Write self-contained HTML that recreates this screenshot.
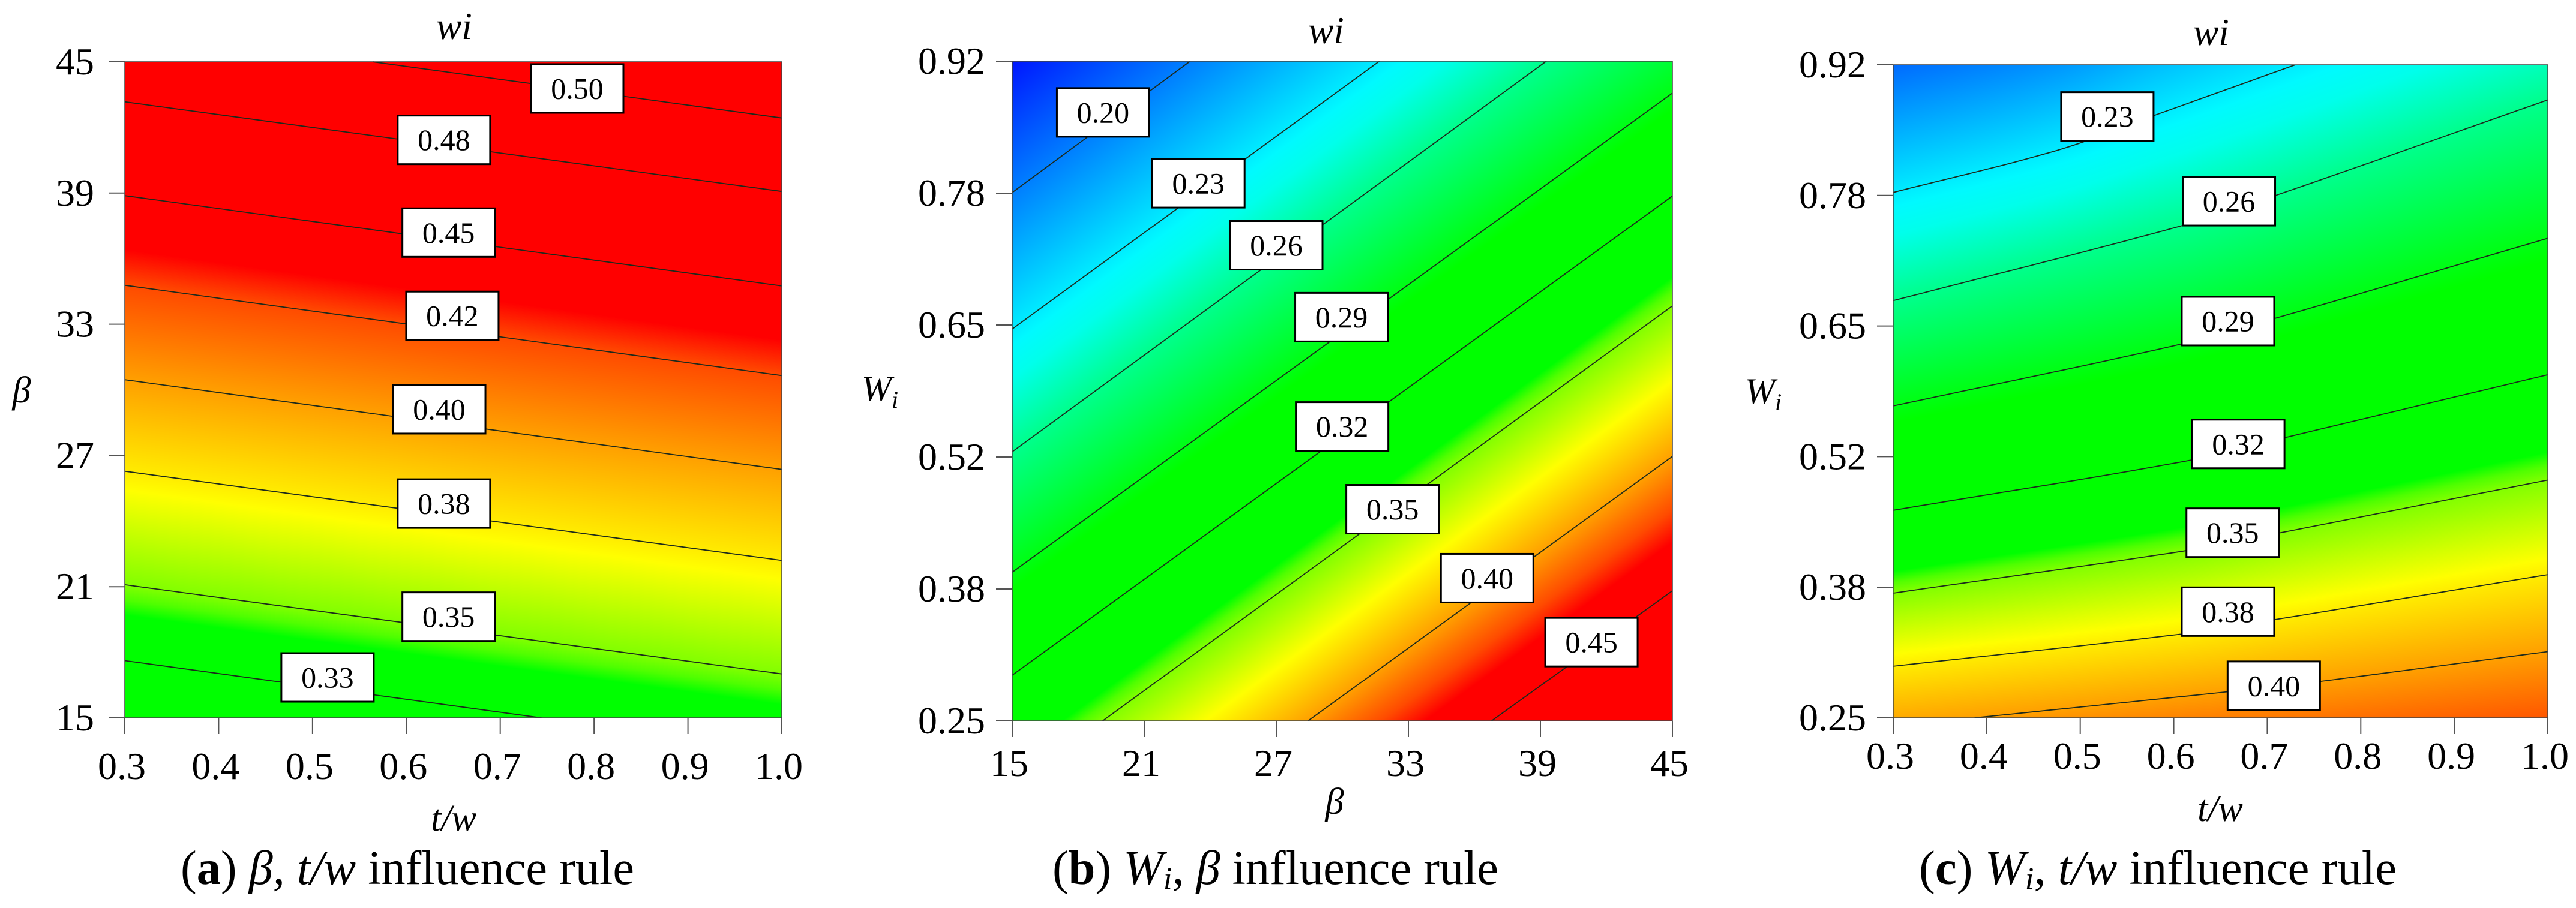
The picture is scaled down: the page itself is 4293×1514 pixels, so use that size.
<!DOCTYPE html>
<html lang="en">
<head>
<meta charset="utf-8">
<title>wi influence rule contour plots</title>
<style>
html,body{margin:0;padding:0;background:#fff;}
#stage{position:relative;width:4293px;height:1514px;overflow:hidden;background:#fff;}
#stage canvas{position:absolute;display:block;}
#overlay{position:absolute;left:0;top:0;}
text{font-family:"Liberation Serif","DejaVu Serif",serif;fill:#000;}
.it{font-style:italic;}
</style>
</head>
<body>
<div id="stage">
<svg id="overlay" width="4293" height="1514" viewBox="0 0 4293 1514" xmlns="http://www.w3.org/2000/svg">
  <text x="757" y="65" font-size="63" text-anchor="middle" class="it">wi</text>
  <text x="756" y="1385" font-size="62" text-anchor="middle" class="it">t/w</text>
  <text x="36" y="671" font-size="62" text-anchor="middle" class="it">β</text>
  <text x="301" y="1474" font-size="80" textLength="756" lengthAdjust="spacingAndGlyphs">(<tspan font-weight="bold">a</tspan>) <tspan class="it">β, t/w</tspan> influence rule</text>

  <text x="2210" y="72" font-size="63" text-anchor="middle" class="it">wi</text>
  <text x="2224" y="1357" font-size="62" text-anchor="middle" class="it">β</text>
  <text x="1436" y="668" font-size="60" class="it">W<tspan font-size="40" dy="12">i</tspan></text>
  <text x="1754" y="1474" font-size="80" textLength="743" lengthAdjust="spacingAndGlyphs">(<tspan font-weight="bold">b</tspan>) <tspan class="it">W</tspan><tspan class="it" font-size="52" dy="8">i</tspan><tspan dy="-8">, </tspan><tspan class="it">β</tspan> influence rule</text>

  <text x="3685" y="75" font-size="63" text-anchor="middle" class="it">wi</text>
  <text x="3700" y="1369" font-size="62" text-anchor="middle" class="it">t/w</text>
  <text x="2908" y="672" font-size="60" class="it">W<tspan font-size="40" dy="12">i</tspan></text>
  <text x="3198" y="1474" font-size="80" textLength="796" lengthAdjust="spacingAndGlyphs">(<tspan font-weight="bold">c</tspan>) <tspan class="it">W</tspan><tspan class="it" font-size="52" dy="8">i</tspan><tspan dy="-8">, </tspan><tspan class="it">t/w</tspan> influence rule</text>
</svg>
</div>
<script>
// ---- Panel (a): beta vs t/w ----
const aXTicks = [0.3,0.4,0.5,0.6,0.7,0.8,0.9,1.0];
const aXTickLabels = ['0.3','0.4','0.5','0.6','0.7','0.8','0.9','1.0'];
const aYTicks = [15,21,27,33,39,45];
const aYTickLabels = ['15','21','27','33','39','45'];
const aLevels = [0.33,0.35,0.38,0.40,0.42,0.45,0.48,0.50];
const aLevelText = ['0.33','0.35','0.38','0.40','0.42','0.45','0.48','0.50'];
const aContourX = [
  [0.300,0.744],[0.300,1.000],[0.300,1.000],[0.300,1.000],
  [0.300,1.000],[0.300,1.000],[0.300,1.000],[0.564,1.000]
];
const aContourY = [
  [17.62,15.00],[21.09,17.01],[26.28,22.20],[30.46,26.36],
  [34.78,30.65],[38.88,34.75],[43.17,39.07],[45.00,42.43]
];
const aLabelX = [0.516,0.645,0.640,0.635,0.649,0.645,0.640,0.782];
const aLabelY = [16.85,19.63,24.80,29.11,33.38,37.19,41.43,43.78];

// ---- Panel (b): Wi vs beta ----
const bXTicks = [15,21,27,33,39,45];
const bXTickLabels = ['15','21','27','33','39','45'];
const bYTicks = [0.25,0.384,0.518,0.652,0.786,0.92];
const bYTickLabels = ['0.25','0.38','0.52','0.65','0.78','0.92'];
const bLevels = [0.20,0.23,0.26,0.29,0.32,0.35,0.40,0.45];
const bLevelText = ['0.20','0.23','0.26','0.29','0.32','0.35','0.40','0.45'];
const bContourX = [
  [15,23.09],[15,31.68],[15,39.27],[15,45],
  [15,45],[19.11,45],[28.44,45],[36.78,45]
];
const bContourY = [
  [0.7866,0.92],[0.6479,0.92],[0.5233,0.92],[0.4010,0.8876],
  [0.2964,0.7830],[0.25,0.6714],[0.25,0.5186],[0.25,0.3822]
];
const bLabelX = [19.13,23.46,27.00,29.96,29.99,32.28,36.58,41.32];
const bLabelY = [0.868,0.796,0.733,0.660,0.549,0.465,0.395,0.330];

// ---- Panel (c): Wi vs t/w ----
const cXTicks = [0.3,0.4,0.5,0.6,0.7,0.8,0.9,1.0];
const cXTickLabels = ['0.3','0.4','0.5','0.6','0.7','0.8','0.9','1.0'];
const cYTicks = [0.25,0.384,0.518,0.652,0.786,0.92];
const cYTickLabels = ['0.25','0.38','0.52','0.65','0.78','0.92'];
const cLevels = [0.23,0.26,0.29,0.32,0.35,0.38,0.40];
const cLevelText = ['0.23','0.26','0.29','0.32','0.35','0.38','0.40'];
const cContourX = [
  [0.300,0.478,0.579,0.730],
  [0.300,0.609,0.709,1.000],
  [0.300,0.606,0.709,1.000],
  [0.300,0.616,0.721,1.000],
  [0.300,0.616,0.709,1.000],
  [0.300,0.608,0.709,1.000],
  [0.387,0.660,0.753,1.000]
];
const cContourY = [
  [0.789,0.833,0.868,0.920],
  [0.678,0.755,0.786,0.884],
  [0.570,0.633,0.660,0.742],
  [0.463,0.514,0.538,0.602],
  [0.378,0.422,0.439,0.494],
  [0.303,0.336,0.351,0.397],
  [0.250,0.277,0.287,0.318]
];
const cLabelX = [0.529,0.659,0.658,0.669,0.663,0.658,0.707];
const cLabelY = [0.867,0.780,0.657,0.531,0.440,0.359,0.283];

// Shared colour scale: response value -> rgb
const scaleValues = [0.165,0.234,0.242,0.26,0.29,0.295,0.342,0.346,0.35,0.375,0.40,0.42,0.432];
const scaleReds   = [0,0,0,0,0,0,0,80,130,255,255,255,255];
const scaleGreens = [0,250,255,255,255,255,255,255,255,255,160,75,0];
const scaleBlues  = [255,255,235,140,20,0,0,0,0,0,0,0,0];

const SVGNS = 'http://www.w3.org/2000/svg';
const overlay = document.getElementById('overlay');
const stage = document.getElementById('stage');

function colorAt(v){
  const n = scaleValues.length;
  if (v <= scaleValues[0]) return [scaleReds[0],scaleGreens[0],scaleBlues[0]];
  if (v >= scaleValues[n-1]) return [scaleReds[n-1],scaleGreens[n-1],scaleBlues[n-1]];
  let i = 0;
  while (i < n-2 && v > scaleValues[i+1]) i++;
  const t = (v-scaleValues[i])/(scaleValues[i+1]-scaleValues[i]);
  return [
    scaleReds[i]+t*(scaleReds[i+1]-scaleReds[i]),
    scaleGreens[i]+t*(scaleGreens[i+1]-scaleGreens[i]),
    scaleBlues[i]+t*(scaleBlues[i+1]-scaleBlues[i])
  ];
}

// Smooth curve through a contour's read points; straight extension beyond its ends
function tangent(xs, ys, i){
  const n = xs.length;
  if (i === 0) return (ys[1]-ys[0])/(xs[1]-xs[0]);
  if (i === n-1) return (ys[n-1]-ys[n-2])/(xs[n-1]-xs[n-2]);
  return (ys[i+1]-ys[i-1])/(xs[i+1]-xs[i-1]);
}
function evalContour(xs, ys, x){
  const n = xs.length;
  if (x <= xs[0]) return ys[0]+(x-xs[0])*tangent(xs,ys,0);
  if (x >= xs[n-1]) return ys[n-1]+(x-xs[n-1])*tangent(xs,ys,n-1);
  let i = 0;
  while (i < n-2 && x > xs[i+1]) i++;
  const d = xs[i+1]-xs[i], t = (x-xs[i])/d, t2 = t*t, t3 = t2*t;
  return (2*t3-3*t2+1)*ys[i]+(t3-2*t2+t)*d*tangent(xs,ys,i)+(-2*t3+3*t2)*ys[i+1]+(t3-t2)*d*tangent(xs,ys,i+1);
}

function drawPanel(p){
  const sx = v => p.left+(v-p.xMin)/(p.xMax-p.xMin)*(p.right-p.left);
  const sy = v => p.bottom-(v-p.yMin)/(p.yMax-p.yMin)*(p.bottom-p.top);
  const w = p.right-p.left, h = p.bottom-p.top;

  // Continuous field, interpolated between the contour lines
  const cv = document.createElement('canvas');
  
  
  cv.width = w; cv.height = h;
  cv.style.left = p.left+'px'; cv.style.top = p.top+'px';
  stage.insertBefore(cv, overlay);
  const ctx = cv.getContext('2d');
  const img = ctx.createImageData(w,h);
  const L = p.levels, nL = L.length;
  const cy = new Float64Array(nL);
  for (let px=0; px<w; px++){
    const xv = p.xMin+(px+0.5)/w*(p.xMax-p.xMin);
    for (let k=0;k<nL;k++) cy[k] = evalContour(p.cx[k],p.cy[k],xv);
    for (let py=0; py<h; py++){
      const yv = p.yMax-(py+0.5)/h*(p.yMax-p.yMin);
      let k = 0;
      const rising = cy[nL-1] > cy[0];
      while (k < nL-2 && (rising ? yv > cy[k+1] : yv < cy[k+1])) k++;
      const val = L[k]+(yv-cy[k])*(L[k+1]-L[k])/(cy[k+1]-cy[k]);
      const c = colorAt(val);
      const o = (py*w+px)*4;
      img.data[o]=c[0]; img.data[o+1]=c[1]; img.data[o+2]=c[2]; img.data[o+3]=255;
    }
  }
  ctx.putImageData(img,0,0);

  const root = document.createElementNS(SVGNS,'g');
  
  
  overlay.appendChild(root);

  // Contour lines
  p.levels.forEach((lv,k)=>{
    const xs = p.cx[k], ys = p.cy[k];
    const steps = xs.length > 2 ? 48 : 1;
    const pts = [];
    for (let s=0; s<=steps; s++){
      const xv = xs[0]+(xs[xs.length-1]-xs[0])*s/steps;
      pts.push(sx(xv).toFixed(1)+','+sy(evalContour(xs,ys,xv)).toFixed(1));
    }
    const line = document.createElementNS(SVGNS,'polyline');
    
    
    line.setAttribute('points', pts.join(' '));
    line.setAttribute('fill','none');
    line.setAttribute('stroke','#1c2a1c');
    line.setAttribute('stroke-width','1.8');
    root.appendChild(line);
  });

  // Frame
  const frame = document.createElementNS(SVGNS,'rect');
  
  
  frame.setAttribute('x',p.left); frame.setAttribute('y',p.top);
  frame.setAttribute('width',w); frame.setAttribute('height',h);
  frame.setAttribute('fill','none');
  frame.setAttribute('stroke','#444');
  frame.setAttribute('stroke-width','1.5');
  root.appendChild(frame);

  // X ticks
  p.xTicks.forEach((t,i)=>{
    const tick = document.createElementNS(SVGNS,'line');
    
    
    tick.setAttribute('x1',sx(t)); tick.setAttribute('x2',sx(t));
    tick.setAttribute('y1',p.bottom); tick.setAttribute('y2',p.bottom+27);
    tick.setAttribute('stroke','#555'); tick.setAttribute('stroke-width','2');
    root.appendChild(tick);
    const lab = document.createElementNS(SVGNS,'text');
    
    
    lab.setAttribute('x',sx(t)-5); lab.setAttribute('y',p.xLabelBase);
    lab.setAttribute('font-size','64'); lab.setAttribute('text-anchor','middle');
    lab.textContent = p.xLabels[i];
    root.appendChild(lab);
  });

  // Y ticks
  p.yTicks.forEach((t,i)=>{
    const tick = document.createElementNS(SVGNS,'line');
    
    
    tick.setAttribute('x1',p.left-27); tick.setAttribute('x2',p.left);
    tick.setAttribute('y1',sy(t)); tick.setAttribute('y2',sy(t));
    tick.setAttribute('stroke','#555'); tick.setAttribute('stroke-width','2');
    root.appendChild(tick);
    const lab = document.createElementNS(SVGNS,'text');
    
    
    lab.setAttribute('x',p.yLabelRight); lab.setAttribute('y',sy(t)+21);
    lab.setAttribute('font-size','64'); lab.setAttribute('text-anchor','end');
    lab.textContent = p.yLabels[i];
    root.appendChild(lab);
  });

  // Contour value labels
  p.levels.forEach((lv,k)=>{
    const cxp = sx(p.lx[k]), cyp = sy(p.ly[k]);
    const box = document.createElementNS(SVGNS,'rect');
    
    
    box.setAttribute('x',cxp-77); box.setAttribute('y',cyp-40.5);
    box.setAttribute('width',154); box.setAttribute('height',81);
    box.setAttribute('fill','#fff'); box.setAttribute('stroke','#000'); box.setAttribute('stroke-width','3');
    root.appendChild(box);
    const txt = document.createElementNS(SVGNS,'text');
    
    
    txt.setAttribute('x',cxp); txt.setAttribute('y',cyp+17);
    txt.setAttribute('font-size','50'); txt.setAttribute('text-anchor','middle');
    txt.textContent = p.levelText[k];
    root.appendChild(txt);
  });
}

drawPanel({id:'panel-a',left:208,right:1303,top:103,bottom:1197,xMin:0.3,xMax:1.0,yMin:15,yMax:45,
  xTicks:aXTicks,xLabels:aXTickLabels,yTicks:aYTicks,yLabels:aYTickLabels,
  levels:aLevels,levelText:aLevelText,cx:aContourX,cy:aContourY,lx:aLabelX,ly:aLabelY,
  xLabelBase:1299,yLabelRight:157});
drawPanel({id:'panel-b',left:1687,right:2787,top:102,bottom:1202,xMin:15,xMax:45,yMin:0.25,yMax:0.92,
  xTicks:bXTicks,xLabels:bXTickLabels,yTicks:bYTicks,yLabels:bYTickLabels,
  levels:bLevels,levelText:bLevelText,cx:bContourX,cy:bContourY,lx:bLabelX,ly:bLabelY,
  xLabelBase:1294,yLabelRight:1642});
drawPanel({id:'panel-c',left:3155,right:4246,top:108,bottom:1197,xMin:0.3,xMax:1.0,yMin:0.25,yMax:0.92,
  xTicks:cXTicks,xLabels:cXTickLabels,yTicks:cYTicks,yLabels:cYTickLabels,
  levels:cLevels,levelText:cLevelText,cx:cContourX,cy:cContourY,lx:cLabelX,ly:cLabelY,
  xLabelBase:1282,yLabelRight:3110});
</script>
</body>
</html>
